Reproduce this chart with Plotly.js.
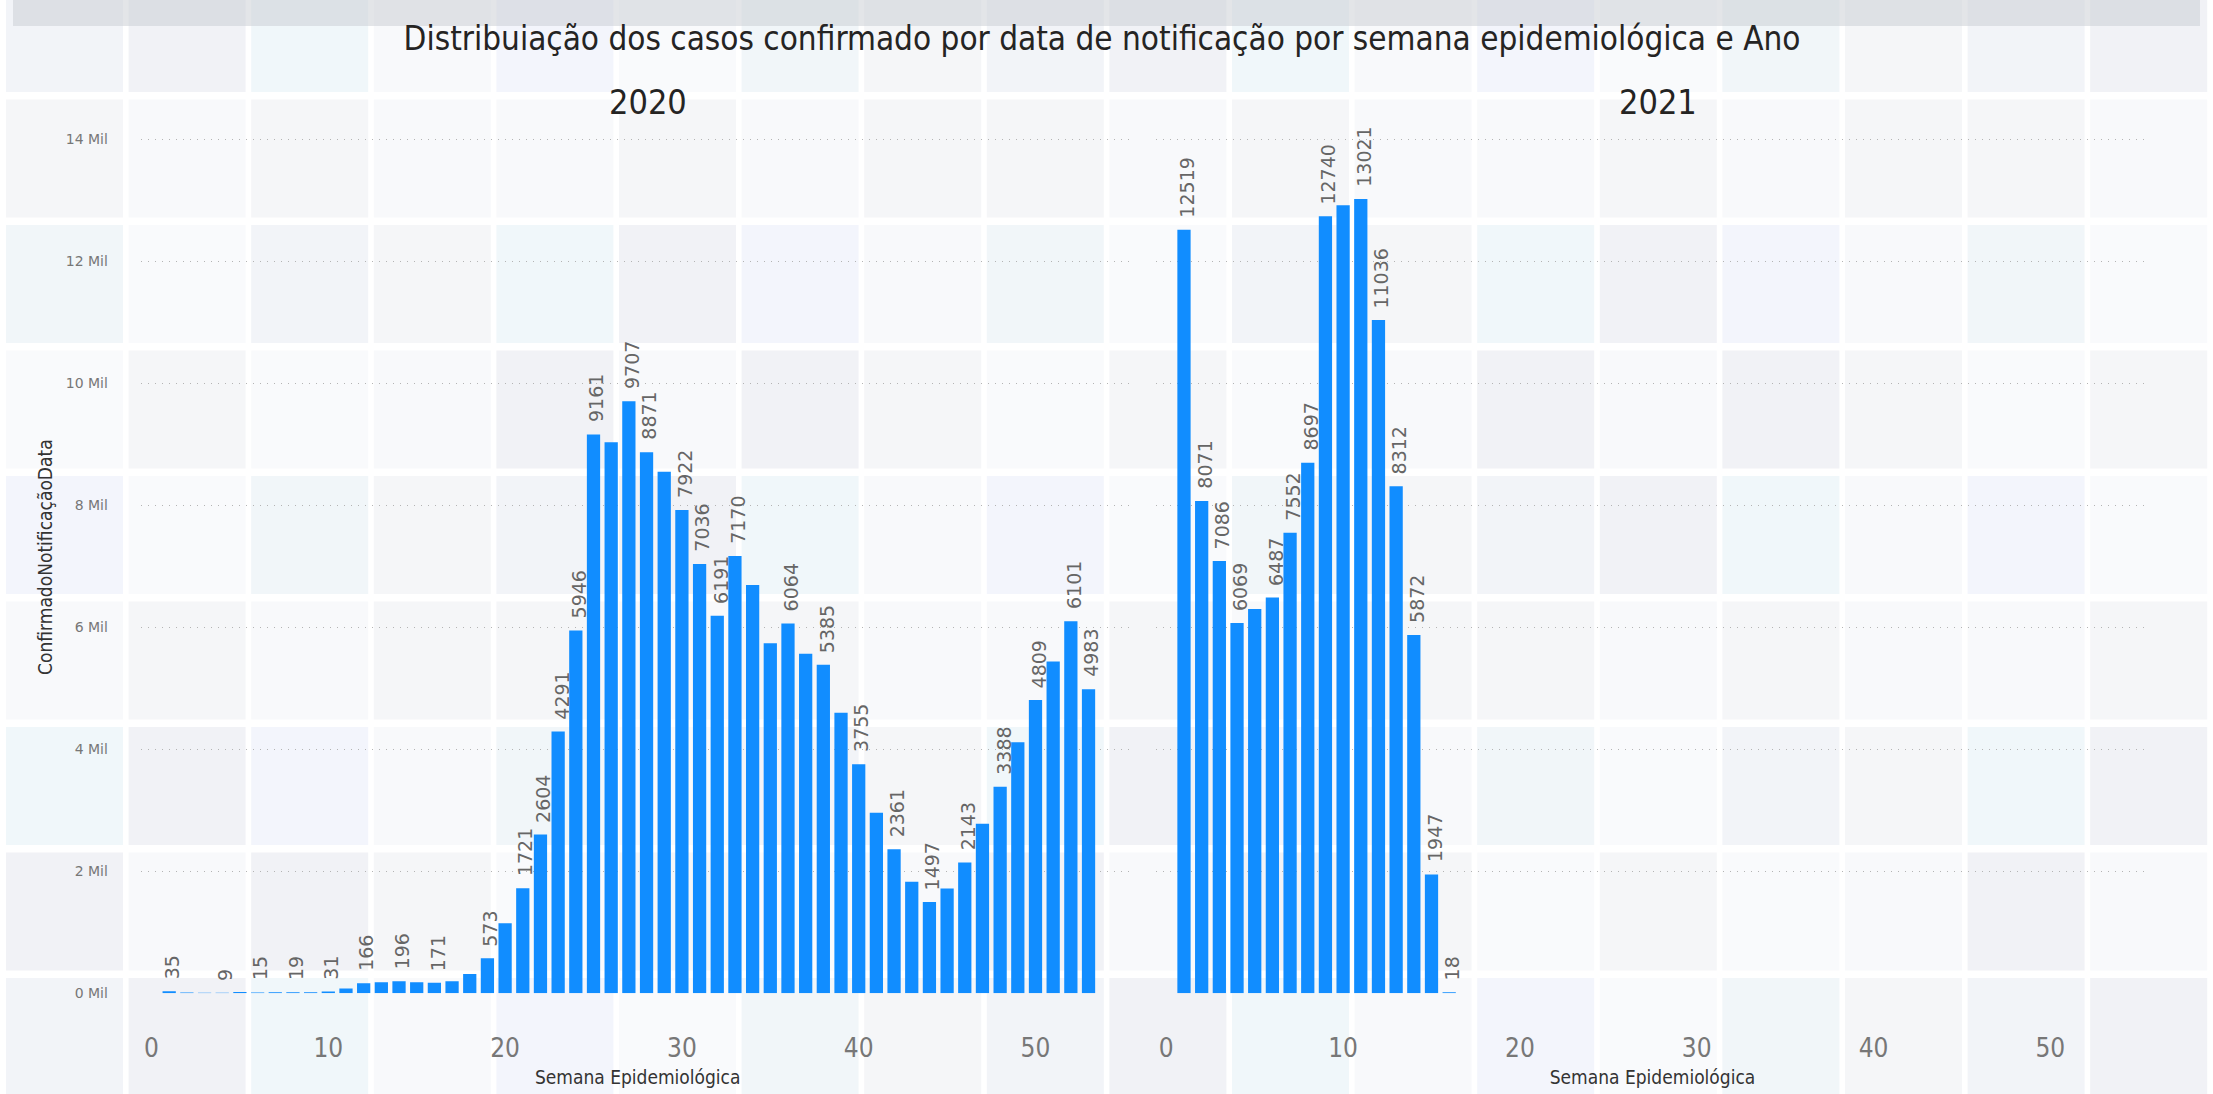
<!DOCTYPE html>
<html>
<head>
<meta charset="utf-8">
<script src="https://cdn.plot.ly/plotly-3.0.1.min.js"></script>
<style>html,body{margin:0;padding:0;background:#fff;}#chart{width:2213px;height:1094px;}</style>
</head>
<body>
<div id="chart"></div>
<script>
// ---------- DATA ----------
const chartTitle = "Distribuiação dos casos confirmado por data de notificação por semana epidemiológica e Ano";
const panelTitles = ["2020", "2021"];
const xAxisTitle = "Semana Epidemiológica";
const yAxisTitle = "ConfirmadoNotificaçãoData";

const weeks2020 = [1,2,3,4,5,6,7,8,9,10,11,12,13,14,15,16,17,18,19,20,21,22,23,24,25,26,27,28,29,30,31,32,33,34,35,36,37,38,39,40,41,42,43,44,45,46,47,48,49,50,51,52,53];
const cases2020 = [35,14,11,9,21,15,16,19,17,31,78,166,180,196,180,171,199,318,573,1150,1721,2604,4291,5946,9161,9035,9707,8871,8550,7922,7036,6191,7170,6695,5740,6064,5565,5385,4600,3755,2960,2361,1830,1497,1720,2143,2780,3388,4115,4809,5440,6101,4983];
const labeledWeeks2020 = [1,4,6,8,10,12,14,16,19,21,22,23,24,25,27,28,30,31,32,33,36,38,40,42,44,46,48,50,52,53];

const weeks2021 = [1,2,3,4,5,6,7,8,9,10,11,12,13,14,15,16];
const cases2021 = [12519,8071,7086,6069,6300,6487,7552,8697,12740,12920,13021,11036,8312,5872,1947,18];
const labeledWeeks2021 = [1,2,3,4,6,7,8,9,11,12,13,14,15,16];

const xTickVals = [0,10,20,30,40,50];
const yTickVals = [0,2000,4000,6000,8000,10000,12000,14000];
const yTickText = ["0 Mil","2 Mil","4 Mil","6 Mil","8 Mil","10 Mil","12 Mil","14 Mil"];

// ---------- STYLE ----------
const W = 2213, H = 1094;
const BAR = "#118DFF";
const COND = "'DejaVu Sans Condensed', 'Liberation Sans Narrow', 'DejaVu Sans', sans-serif";
const SANS = "'DejaVu Sans', sans-serif";

function barTrace(x, y, xa, ya) {
  return {type: "bar", x: x, y: y, xaxis: xa, yaxis: ya,
    marker: {color: BAR, line: {width: 0}}, width: 0.75, hoverinfo: "x+y", cliponaxis: false};
}

function labelAnnotations(weeks, cases, labeled, xref, yref) {
  const out = [];
  weeks.forEach((w, i) => {
    if (labeled.indexOf(w) === -1) return;
    out.push({x: w, y: cases[i], xref: xref, yref: yref, text: String(cases[i]),
      showarrow: false, textangle: -90, xanchor: "center", yanchor: "bottom",
      xshift: 3, yshift: 11, borderpad: 0,
      font: {family: SANS, size: 19, color: "#666666"}});
  });
  return out;
}

// background tiles (decorative, Power BI style background image)
const tilePalette = ["#f2f4f8", "#f8f9fb", "#f1f6f9", "#f1f2f6", "#f3f5fc", "#f5f6f8", "#f0f7fa", "#f9fafc"];
const shapes = [];
for (let r = 0; r < 9; r++) {
  for (let c = 0; c < 18; c++) {
    const x0 = 6 + 122.6 * c, y0 = -26 + 125.5 * r;
    const col = tilePalette[(r * 5 + c * 3 + ((r * c) % 4)) % tilePalette.length];
    shapes.push({type: "rect", xref: "paper", yref: "paper", layer: "below",
      x0: x0 / W, x1: (x0 + 117) / W, y0: 1 - (y0 + 118) / H, y1: 1 - y0 / H,
      line: {width: 0}, fillcolor: col});
  }
}
shapes.push({type: "rect", xref: "paper", yref: "paper", layer: "below",
  x0: 13 / W, x1: 2200 / W, y0: 1 - 26 / H, y1: 1, line: {width: 0}, fillcolor: "rgba(200,204,210,0.5)"});

const xDom2020 = [140.9 / W, 1134.5 / W];
const xDom2021 = [1155.7 / W, 2149.3 / W];
// y: 0 at 993.3px, 61.0 px per 1000
const yMax = 14300;
const yDom = [1 - 993.3 / H, 1 - (993.3 - yMax * 0.0610) / H];

function xAxis(domain, anchor) {
  return {domain: domain, anchor: anchor, range: [-0.6, 55.6], tickvals: xTickVals,
    showgrid: false, zeroline: false, showline: false, ticks: "",
    tickfont: {family: COND, size: 26, color: "#777777"}, ticklabelstandoff: 37,
    title: {text: xAxisTitle, font: {family: COND, size: 19, color: "#333333"}, standoff: 8}};
}

const annotations = [
  {text: panelTitles[0], x: 648 / W, y: 1 - 102 / H, xref: "paper", yref: "paper", showarrow: false,
   xanchor: "center", yanchor: "middle", font: {family: COND, size: 34, color: "#252423"}},
  {text: panelTitles[1], x: 1658 / W, y: 1 - 102 / H, xref: "paper", yref: "paper", showarrow: false,
   xanchor: "center", yanchor: "middle", font: {family: COND, size: 34, color: "#252423"}}
].concat(labelAnnotations(weeks2020, cases2020, labeledWeeks2020, "x", "y"))
 .concat(labelAnnotations(weeks2021, cases2021, labeledWeeks2021, "x2", "y2"));

const yBase = {domain: yDom, range: [0, yMax], tickvals: yTickVals, ticktext: yTickText,
  showgrid: true, gridcolor: "#b4b4b4", gridwidth: 1, griddash: "1px,6px",
  zeroline: false, showline: false, ticks: ""};

const layout = {
  width: W, height: H, margin: {l: 0, r: 0, t: 0, b: 0},
  paper_bgcolor: "#ffffff", plot_bgcolor: "rgba(0,0,0,0)", showlegend: false,
  bargap: 0.25,
  title: {text: chartTitle, x: 1102 / W, xanchor: "center", xref: "paper", y: 1 - 38 / H, yanchor: "middle", yref: "paper",
    font: {family: COND, size: 33, color: "#252423"}},
  xaxis: xAxis(xDom2020, "y"),
  xaxis2: xAxis(xDom2021, "y2"),
  yaxis: Object.assign({}, yBase, {anchor: "x", tickfont: {family: SANS, size: 14, color: "#777777"},
    ticklabelstandoff: 32,
    title: {text: yAxisTitle, font: {family: COND, size: 19, color: "#333333"}, standoff: 8}}),
  yaxis2: Object.assign({}, yBase, {anchor: "x2", matches: "y", showticklabels: false}),
  shapes: shapes,
  annotations: annotations
};

const data = [barTrace(weeks2020, cases2020, "x", "y"), barTrace(weeks2021, cases2021, "x2", "y2")];
Plotly.newPlot("chart", data, layout, {displayModeBar: false, staticPlot: true});
</script>
</body>
</html>
